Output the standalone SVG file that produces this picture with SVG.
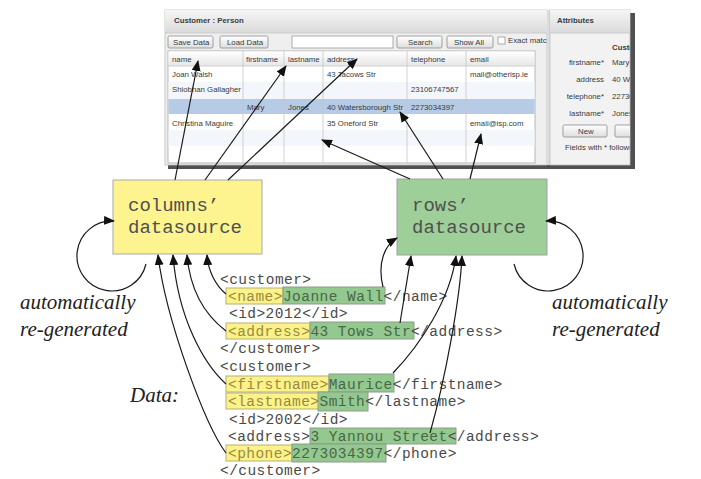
<svg xmlns="http://www.w3.org/2000/svg" width="701" height="479" viewBox="0 0 701 479">
<defs>
  <linearGradient id="gTitle" x1="0" y1="0" x2="0" y2="1"><stop offset="0" stop-color="#f6f6f6"/><stop offset="1" stop-color="#dadada"/></linearGradient>
  <linearGradient id="gBtn" x1="0" y1="0" x2="0" y2="1"><stop offset="0" stop-color="#ffffff"/><stop offset="1" stop-color="#dedede"/></linearGradient>
  <linearGradient id="gHead" x1="0" y1="0" x2="0" y2="1"><stop offset="0" stop-color="#ffffff"/><stop offset="1" stop-color="#e6e6e6"/></linearGradient>
  <marker id="ah" markerWidth="11" markerHeight="9" refX="10" refY="4.5" orient="auto" markerUnits="userSpaceOnUse"><path d="M0,0 L11,4.5 L0,9 z" fill="#111"/></marker>
  <clipPath id="clipR"><rect x="550" y="10" width="80" height="155"/></clipPath>
</defs>
<style>
  .ui{font-family:"Liberation Sans",Arial,sans-serif;font-size:7.8px;fill:#3a3a3a}
  .b{font-weight:bold}
  .btn{fill:url(#gBtn);stroke:#8a8a8a;stroke-width:0.8}
  .grid{stroke:#c6c6c6;stroke-width:0.8}
  .mono{font-family:"Liberation Mono","Courier New",monospace;fill:#4a4a4a}
  .xml{font-size:14.5px;letter-spacing:0.45px}
  .boxt{font-size:19px;fill:#505050}
  .it{font-family:"Liberation Serif","Times New Roman",serif;font-style:italic;font-size:21px;fill:#222}
  .hy{fill:#fbf28a;stroke:#b8b070;stroke-width:1}
  .hg{fill:#93c98f;stroke:#8c9c8a;stroke-width:1}
  .ty{fill:#9a8a3e}
  .tg{fill:#4a664a}
  .conn path{fill:none;stroke:#1a1a1a;stroke-width:1.2;marker-end:url(#ah)}
</style>

<g id="screenshot">
  <rect x="168" y="13" width="467" height="156" fill="#505050"/>
  <rect x="165" y="10" width="382" height="155" fill="#efefef" stroke="#bdbdbd" stroke-width="0.8"/>
  <rect x="165" y="10" width="382" height="23" fill="url(#gTitle)"/>
  <line x1="165" y1="33" x2="547" y2="33" stroke="#c8c8c8" stroke-width="0.8"/>
  <text class="ui b" x="174" y="23">Customer : Person</text>

  <rect class="btn" x="168" y="36" width="45" height="12" rx="1.5"/>
  <text class="ui" x="173" y="45">Save Data</text>
  <rect class="btn" x="220" y="36" width="48" height="12" rx="1.5"/>
  <text class="ui" x="227" y="45">Load Data</text>
  <rect x="292" y="36" width="101" height="12" fill="#ffffff" stroke="#9a9a9a" stroke-width="0.8"/>
  <rect class="btn" x="397" y="36" width="45" height="12" rx="1.5"/>
  <text class="ui" x="408" y="45">Search</text>
  <rect class="btn" x="447" y="36" width="46" height="12" rx="1.5"/>
  <text class="ui" x="454" y="45">Show All</text>
  <rect x="498" y="37" width="7" height="7" fill="#ffffff" stroke="#8a8a8a" stroke-width="0.7"/>
  <text class="ui" x="508" y="43">Exact matc</text>

  <rect x="168" y="51" width="367" height="112" fill="#ffffff" stroke="#a8a8a8" stroke-width="0.8"/>
  <rect x="168.5" y="51.5" width="366" height="14.5" fill="url(#gHead)"/>
  <rect x="168.5" y="82" width="366" height="17" fill="#f3f6fa"/>
  <rect x="168.5" y="99" width="366" height="15" fill="#b5cbe6"/>
  <rect x="168.5" y="130" width="366" height="16" fill="#f3f6fa"/>
  <line class="grid" x1="168" y1="66" x2="535" y2="66"/>
  <line class="grid" x1="243" y1="51" x2="243" y2="163"/>
  <line class="grid" x1="284" y1="51" x2="284" y2="163"/>
  <line class="grid" x1="323" y1="51" x2="323" y2="163"/>
  <line class="grid" x1="407" y1="51" x2="407" y2="163"/>
  <line class="grid" x1="466" y1="51" x2="466" y2="163"/>

  <text class="ui" x="172" y="62">name</text>
  <text class="ui" x="246" y="62">firstname</text>
  <text class="ui" x="288" y="62">lastname</text>
  <text class="ui" x="327" y="62">address</text>
  <text class="ui" x="411" y="62">telephone</text>
  <text class="ui" x="470" y="62">email</text>

  <text class="ui" x="172" y="77">Joan Walsh</text>
  <text class="ui" x="327" y="77">43 Tacows Str</text>
  <text class="ui" x="470" y="77">mail@otherisp.ie</text>
  <text class="ui" x="172" y="92">Shiobhan Gallagher</text>
  <text class="ui" x="411" y="92">23106747567</text>
  <text class="ui" x="247" y="110">Mary</text>
  <text class="ui" x="288" y="110">Jones</text>
  <text class="ui" x="327" y="110">40 Watersborough Str</text>
  <text class="ui" x="411" y="110">2273034397</text>
  <text class="ui" x="172" y="126">Christina Maguire</text>
  <text class="ui" x="327" y="126">35 Oneford Str</text>
  <text class="ui" x="470" y="126">email@isp.com</text>

  <rect x="547" y="10" width="3" height="155" fill="#dcdcdc"/>
  <rect x="550" y="10" width="80" height="155" fill="#f2f2f2" stroke="#bdbdbd" stroke-width="0.8"/>
  <g clip-path="url(#clipR)">
    <rect x="550" y="10" width="80" height="23" fill="url(#gTitle)"/>
    <line x1="550" y1="33" x2="630" y2="33" stroke="#c8c8c8" stroke-width="0.8"/>
    <text class="ui b" x="557" y="23">Attributes</text>
    <text class="ui b" x="612" y="50">Customer</text>
    <text class="ui" x="604" y="65" text-anchor="end">firstname*</text>
    <text class="ui" x="612" y="65">Mary</text>
    <text class="ui" x="604" y="82" text-anchor="end">address</text>
    <text class="ui" x="612" y="82">40 Watersborough</text>
    <text class="ui" x="604" y="99" text-anchor="end">telephone*</text>
    <text class="ui" x="612" y="99">2273034397</text>
    <text class="ui" x="604" y="116" text-anchor="end">lastname*</text>
    <text class="ui" x="612" y="116">Jones</text>
    <rect class="btn" x="563" y="125" width="44" height="12" rx="1.5"/>
    <text class="ui" x="578" y="134">New</text>
    <rect class="btn" x="615" y="125" width="44" height="12" rx="1.5"/>
    <text class="ui" x="565" y="150">Fields with * followed</text>
  </g>
</g>

<g id="columns-datasource">
  <rect x="113" y="180" width="149" height="74" fill="#fdf48f" stroke="#a9a9a9" stroke-width="1"/>
  <text class="mono boxt" x="128" y="211">columns’</text>
  <text class="mono boxt" x="128" y="233">datasource</text>
</g>

<g id="rows-datasource">
  <rect x="397" y="179" width="150" height="76" fill="#9ecf99" stroke="#a0a0a0" stroke-width="1"/>
  <text class="mono boxt" x="412" y="211">rows’</text>
  <text class="mono boxt" x="412" y="233">datasource</text>
</g>

<g id="labels">
  <text class="it" x="20" y="309">automatically</text>
  <text class="it" x="20" y="336">re-generated</text>
  <text class="it" x="552" y="309">automatically</text>
  <text class="it" x="552" y="336">re-generated</text>
  <text class="it" x="130" y="402">Data:</text>
</g>

<g id="data">
  <rect class="hy" x="226" y="288" width="57" height="16"/>
  <rect class="hg" x="283" y="287" width="102" height="17"/>
  <rect class="hy" x="226" y="323" width="84" height="16"/>
  <rect class="hg" x="310" y="322" width="104" height="17"/>
  <rect class="hy" x="226" y="376" width="103" height="16"/>
  <rect class="hg" x="329" y="374" width="65" height="18"/>
  <rect class="hy" x="226" y="393" width="93" height="16"/>
  <rect class="hg" x="318" y="392" width="50" height="19"/>
  <rect class="hg" x="310" y="428" width="146" height="16"/>
  <rect class="hy" x="226" y="445" width="66" height="16"/>
  <rect class="hg" x="292" y="444" width="94" height="18"/>

  <text class="mono xml" x="220" y="284">&lt;customer&gt;</text>
  <text class="mono xml" x="228" y="301"><tspan class="ty">&lt;name&gt;</tspan><tspan class="tg">Joanne Wall</tspan>&lt;/name&gt;</text>
  <text class="mono xml" x="229" y="318">&lt;id&gt;2012&lt;/id&gt;</text>
  <text class="mono xml" x="228" y="336"><tspan class="ty">&lt;address&gt;</tspan><tspan class="tg">43 Tows Str</tspan>&lt;/address&gt;</text>
  <text class="mono xml" x="220" y="353">&lt;/customer&gt;</text>
  <text class="mono xml" x="220" y="371">&lt;customer&gt;</text>
  <text class="mono xml" x="228" y="389"><tspan class="ty">&lt;firstname&gt;</tspan><tspan class="tg">Maurice</tspan>&lt;/firstname&gt;</text>
  <text class="mono xml" x="228" y="406"><tspan class="ty">&lt;lastname&gt;</tspan><tspan class="tg">Smith</tspan>&lt;/lastname&gt;</text>
  <text class="mono xml" x="229" y="424">&lt;id&gt;2002&lt;/id&gt;</text>
  <text class="mono xml" x="228" y="441">&lt;address&gt;<tspan class="tg">3 Yannou Street</tspan>&lt;/address&gt;</text>
  <text class="mono xml" x="228" y="458"><tspan class="ty">&lt;phone&gt;</tspan><tspan class="tg">2273034397</tspan>&lt;/phone&gt;</text>
  <text class="mono xml" x="220" y="475">&lt;/customer&gt;</text>
</g>

<g id="connectors" class="conn">
  <path d="M226,453 C205,425 166,320 158,255"/>
  <path d="M226,384 C205,365 178,320 173,255"/>
  <path d="M226,331 C205,315 190,290 187,255"/>
  <path d="M226,294 C215,285 208,270 207,255"/>
  <path d="M383,287 C377,262 385,245 397,238"/>
  <path d="M400,323 L411,256"/>
  <path d="M393,373 C420,345 450,300 456,256"/>
  <path d="M430,433 C445,380 460,300 462,256"/>
  <path d="M175,180 L198,61"/>
  <path d="M205,180 L286,66"/>
  <path d="M228,180 L357,59"/>
  <path d="M410,179 L322,140"/>
  <path d="M443,179 L400,112"/>
  <path d="M470,179 L481,134"/>
  <path d="M146,264 A35,35 0 1 1 114,221"/>
  <path d="M514,264 A35,35 0 1 0 546,221"/>
</g>
</svg>
